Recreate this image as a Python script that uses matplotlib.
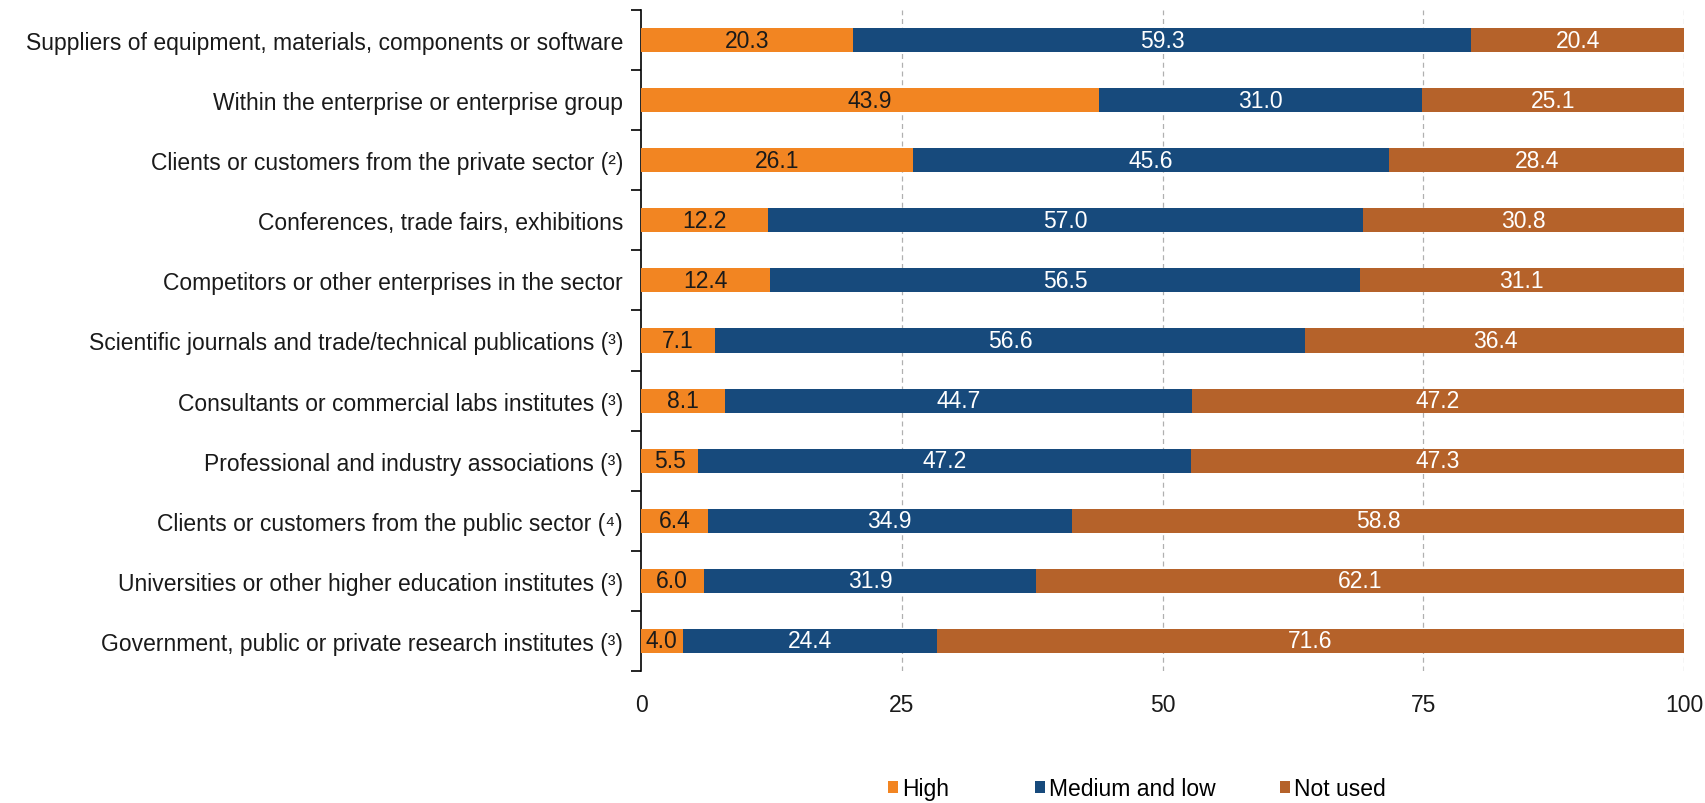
import matplotlib
matplotlib.use("Agg")
import matplotlib.pyplot as plt
import numpy as np

categories = [
    "Suppliers of equipment, materials, components or software",
    "Within the enterprise or enterprise group",
    "Clients or customers from the private sector (\u00b2)",
    "Conferences, trade fairs, exhibitions",
    "Competitors or other enterprises in the sector",
    "Scientific journals and trade/technical publications (\u00b3)",
    "Consultants or commercial labs institutes (\u00b3)",
    "Professional and industry associations (\u00b3)",
    "Clients or customers from the public sector (\u2074)",
    "Universities or other higher education institutes (\u00b3)",
    "Government, public or private research institutes (\u00b3)",
]
high = [20.3, 43.9, 26.1, 12.2, 12.4, 7.1, 8.1, 5.5, 6.4, 6.0, 4.0]
medium_low = [59.3, 31.0, 45.6, 57.0, 56.5, 56.6, 44.7, 47.2, 34.9, 31.9, 24.4]
not_used = [20.4, 25.1, 28.4, 30.8, 31.1, 36.4, 47.2, 47.3, 58.8, 62.1, 71.6]
series_names = ["High", "Medium and low", "Not used"]
colors = ["#F28522", "#174A7C", "#B5622A"]
text_colors = ["#1a1a1a", "white", "white"]
x_ticks = [0, 25, 50, 75, 100]

plt.rcParams['font.family'] = ['Liberation Sans', 'DejaVu Sans']
FS = 16.5

fig = plt.figure(figsize=(17.05, 8.04), dpi=100)
ax = fig.add_axes([641/1705, 1 - 672/804, (1684-641)/1705, (672-11)/804])

y = np.arange(len(categories))
left = np.zeros(len(categories))
handles = []
for vals, name, c, tc in zip([high, medium_low, not_used], series_names, colors, text_colors):
    vals = np.array(vals)
    bars = ax.barh(y, vals, left=left, height=0.4, color=c, label=name, zorder=3)
    handles.append(bars)
    for yi, l, v in zip(y, left, vals):
        ax.text(l + v / 2, yi, f"{v:.1f}", ha="center", va="center", color=tc,
                fontsize=FS, zorder=4)
    left = left + vals

ax.set_xlim(0, 100)
ax.set_ylim(len(categories) - 0.5, -0.5)
ax.set_xticks(x_ticks)
ax.set_xticklabels([str(t) for t in x_ticks], fontsize=FS, color="#1a1a1a")
ax.tick_params(axis="x", length=0, pad=16)
ax.set_yticks(y)
ax.set_yticklabels(categories, fontsize=FS, color="#1a1a1a")
ax.tick_params(axis="y", which="major", length=0, pad=13)
ax.set_yticks(np.arange(-0.5, len(categories), 1.0), minor=True)
ax.tick_params(axis="y", which="minor", length=7, width=1.2, color="black", direction="out")

for t in x_ticks[1:]:
    ax.axvline(t, color="#b0b0b0", linestyle=(0, (4, 3)), linewidth=0.9, zorder=1)

for s in ["top", "right", "bottom"]:
    ax.spines[s].set_visible(False)
ax.spines["left"].set_color("black")
ax.spines["left"].set_linewidth(1.2)

legend_x = [888, 1035, 1280]
for h, name, lx in zip(handles, series_names, legend_x):
    fig.legend(handles=[h], labels=[name], loc="center left",
               bbox_to_anchor=(lx/1705, 1 - 790/804), frameon=False,
               fontsize=FS, handlelength=0.45, handleheight=0.45, handletextpad=0.15,
               borderpad=0, borderaxespad=0)

fig.savefig("out.png", dpi=100)
